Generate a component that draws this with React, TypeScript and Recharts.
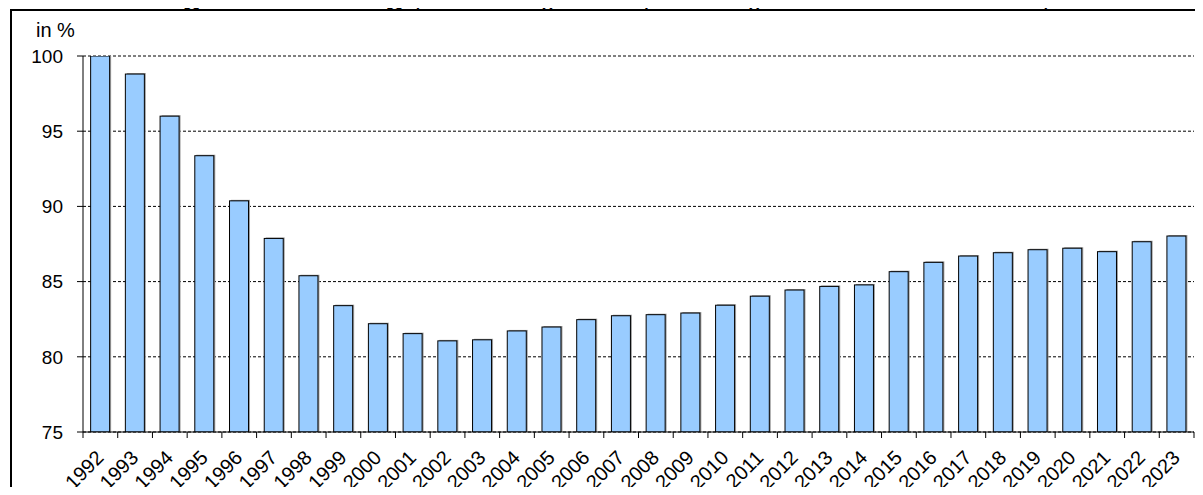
import React from 'react';
import { BarChart, Bar, XAxis, YAxis, CartesianGrid } from 'recharts';

const years = [
  '1992', '1993', '1994', '1995', '1996', '1997', '1998', '1999', '2000', '2001', '2002',
  '2003', '2004', '2005', '2006', '2007', '2008', '2009', '2010', '2011', '2012', '2013',
  '2014', '2015', '2016', '2017', '2018', '2019', '2020', '2021', '2022', '2023',
];
const values = [
  100, 98.8, 96.0, 93.37, 90.37, 87.87, 85.39, 83.4, 82.2, 81.54, 81.06,
  81.13, 81.72, 81.98, 82.47, 82.73, 82.8, 82.91, 83.43, 84.03, 84.44, 84.68,
  84.78, 85.66, 86.28, 86.7, 86.92, 87.12, 87.22, 86.99, 87.65, 88.03,
];
const yTicks = [75, 80, 85, 90, 95, 100];
const titleBold = 'Bevölkerungsentwicklung';
const titleRest = '(Bevölkerung mit Hauptwohnung';
const titleBase = '1992 = 100)';
const unitLabel = 'in %';

const data = years.map((year, i) => ({ year, value: values[i] }));

const W = 1203;
const H = 495;
const MARGIN = { top: 56, right: 9, left: 0, bottom: 0 };
const Y_W = 83;
const X_H = 63;
const STEP = (W - MARGIN.left - MARGIN.right - Y_W) / years.length;
const FONT = '"Liberation Sans", Arial, Helvetica, sans-serif';

function XTick(props: any) {
  const { x, y, payload, index } = props;
  const half = STEP / 2;
  const isLast = index === years.length - 1;
  const ax = x + 4.5;
  const ay = y + 27;
  return (
    <g>
      <line x1={x - half} x2={x - half} y1={y} y2={y + 6} stroke="#000" strokeWidth={1} />
      {isLast && <line x1={x + half} x2={x + half} y1={y} y2={y + 6} stroke="#000" strokeWidth={1} />}
      <text
        x={ax}
        y={ay}
        transform={`rotate(-45 ${ax} ${ay})`}
        textAnchor="end"
        fontSize={20}
        fill="#000"
        fontFamily={FONT}
      >
        {payload.value}
      </text>
    </g>
  );
}

function BarShape(props: any) {
  const { x, y, width, height } = props;
  return (
    <g>
      <rect x={x + 1.5} y={y - 1} width={width} height={height + 1} fill="#a0a0a0" />
      <rect x={x} y={y} width={width} height={height} fill="#99CCFF" stroke="#000" strokeWidth={1} />
    </g>
  );
}

export default function App() {
  return (
    <div style={{ position: 'relative', width: W, height: H, margin: -8, overflow: 'hidden', background: '#fff', fontFamily: FONT }}>
      <BarChart width={W} height={H} data={data} margin={MARGIN} barCategoryGap="22%">
        <CartesianGrid vertical={false} stroke="#000" strokeDasharray="3 2" />
        <XAxis
          dataKey="year"
          interval={0}
          height={X_H}
          tickLine={false}
          tickSize={0}
          tickMargin={0}
          axisLine={{ stroke: '#000', strokeWidth: 1 }}
          tick={<XTick />}
        />
        <YAxis
          domain={[75, 100]}
          ticks={yTicks}
          interval={0}
          width={Y_W}
          tickSize={6}
          tickMargin={14}
          allowDataOverflow
          axisLine={{ stroke: '#000', strokeWidth: 1 }}
          tickLine={{ stroke: '#000', strokeWidth: 1 }}
          tick={{ fill: '#000', fontSize: 19, fontFamily: FONT }}
        />
        <Bar dataKey="value" isAnimationActive={false} shape={<BarShape />} />
      </BarChart>
      <svg width={W} height={H} style={{ position: 'absolute', left: 0, top: 0, pointerEvents: 'none' }}>
        <defs>
          <clipPath id="titleClip">
            <rect x={0} y={0} width={W} height={10} />
          </clipPath>
        </defs>
        <g clipPath="url(#titleClip)">
          <text x={8} y={5} fontSize={32} fontWeight="bold" fill="#000" fontFamily={FONT}>
            {titleBold}
          </text>
          <text x={413} y={5.5} fontSize={24} fill="#000" fontFamily={FONT}>
            {titleRest}
          </text>
          <text x={922} y={5.5} fontSize={24} fill="#000" fontFamily={FONT}>
            {titleBase}
          </text>
        </g>
        <line x1={10} x2={W} y1={10} y2={10} stroke="#000" strokeWidth={2} />
        <line x1={11} x2={11} y1={9} y2={H} stroke="#000" strokeWidth={2} />
        <text x={36} y={36.5} fontSize={20} fill="#000" fontFamily={FONT}>
          {unitLabel}
        </text>
      </svg>
    </div>
  );
}
